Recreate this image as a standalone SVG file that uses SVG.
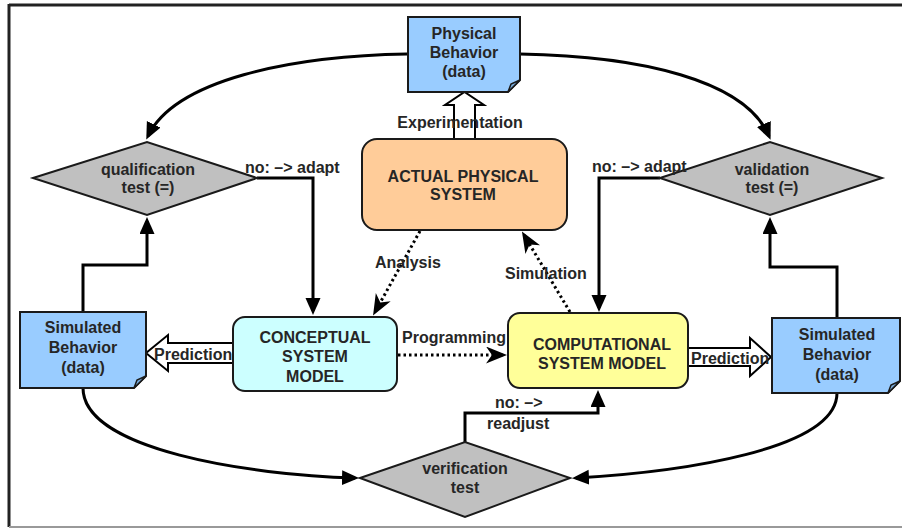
<svg xmlns="http://www.w3.org/2000/svg" width="902" height="529" viewBox="0 0 902 529">
<defs>
<style>
text{font-family:"Liberation Sans",Arial,sans-serif;font-size:16px;font-weight:bold;fill:#262626}
.c{text-anchor:middle}
.box{stroke:#1a1a1a;stroke-width:2}
.doc{fill:#99ccff;stroke:#1a1a1a;stroke-width:2}
.flap{fill:#7aaee0;stroke:#1a1a1a;stroke-width:1.5}
.dia{fill:#c0c0c0;stroke:#1a1a1a;stroke-width:2}
.ln{fill:none;stroke:#000;stroke-width:3}
.dot{fill:none;stroke:#000;stroke-width:3;stroke-dasharray:2.5 3}
.hol{fill:#fff;stroke:#000;stroke-width:2;stroke-linejoin:miter}
</style>
<marker id="tri" markerUnits="userSpaceOnUse" markerWidth="18" markerHeight="16" refX="13" refY="7.5" orient="auto">
<path d="M0,0 L17,7.5 L0,15 z" fill="#000"/>
</marker>
<marker id="stl" markerUnits="userSpaceOnUse" markerWidth="22" markerHeight="18" refX="17" refY="8.5" orient="auto">
<path d="M0,0 L21,8.5 L0,17 L6,8.5 z" fill="#000"/>
</marker>
</defs>
<rect width="902" height="529" fill="#fff"/>
<g id="frame">
<line x1="9" y1="5" x2="902" y2="5" stroke="#222" stroke-width="3"/>
<line x1="9" y1="4" x2="9" y2="527" stroke="#222" stroke-width="3"/>
<line x1="9" y1="527" x2="902" y2="527" stroke="#999" stroke-width="2"/>
</g>
<g id="connectors">
<path class="ln" d="M407,54 C290,56 175,80 148,136" marker-end="url(#tri)"/>
<path class="ln" d="M520,54 C640,56 745,80 769,136" marker-end="url(#tri)"/>
<path class="ln" d="M83,312 V265 H147 V221" marker-end="url(#tri)"/>
<path class="ln" d="M837,318 V267 H770 V221" marker-end="url(#tri)"/>
<path class="ln" d="M257,178 H313 V311" marker-end="url(#tri)"/>
<path class="ln" d="M660,178 H599 V308" marker-end="url(#tri)"/>
<path class="ln" d="M465,442 V413 H598 V394" marker-end="url(#tri)"/>
<path class="ln" d="M83,388 C83,450 250,475 355,478" marker-end="url(#tri)"/>
<path class="ln" d="M837,393 C837,450 680,472 576,478" marker-end="url(#tri)"/>
<path class="dot" d="M420,231 L375,312" marker-end="url(#stl)"/>
<path class="dot" d="M570,312 L524,235" marker-end="url(#stl)"/>
<path class="dot" d="M398,355 L503,355" marker-end="url(#stl)"/>
<polygon class="hol" points="454,139 454,105 445,105 464.5,92 484,105 475,105 475,139"/>
<polygon class="hol" points="233,343 168,343 168,335 146,353 168,371 168,363 233,363"/>
<polygon class="hol" points="688,348 750,348 750,338 771,357 750,376 750,366 688,366"/>
</g>
<g id="physical">
<path class="doc" d="M408,17 H520 V80 L508,92 H408 Z"/>
<path class="flap" d="M508,92 L511,84 L520,80 Z"/>
<text class="c" x="464" y="39">Physical</text>
<text class="c" x="464" y="58">Behavior</text>
<text class="c" x="464" y="77">(data)</text>
</g>
<g id="actual">
<rect class="box" x="362" y="139" width="205" height="91" rx="15" fill="#ffcc99"/>
<text class="c" x="463" y="182">ACTUAL PHYSICAL</text>
<text class="c" x="463" y="200">SYSTEM</text>
</g>
<g id="qualification">
<polygon class="dia" points="33,178 147,142 257,178 147,215"/>
<text class="c" x="148" y="175">qualification</text>
<text class="c" x="148" y="193">test (=)</text>
</g>
<g id="validation">
<polygon class="dia" points="660,178 770,142 882,178 770,215"/>
<text class="c" x="772" y="175">validation</text>
<text class="c" x="772" y="193">test (=)</text>
</g>
<g id="simulated-left">
<path class="doc" d="M20,312 H146 V376 L134,388 H20 Z"/>
<path class="flap" d="M134,388 L137,380 L146,376 Z"/>
<text class="c" x="83" y="333">Simulated</text>
<text class="c" x="83" y="353">Behavior</text>
<text class="c" x="83" y="373">(data)</text>
</g>
<g id="conceptual">
<rect class="box" x="233" y="317" width="164" height="74" rx="12" fill="#ccffff"/>
<text class="c" x="315" y="343">CONCEPTUAL</text>
<text class="c" x="315" y="362">SYSTEM</text>
<text class="c" x="315" y="382">MODEL</text>
</g>
<g id="computational">
<rect class="box" x="508" y="313" width="180" height="75" rx="12" fill="#ffff99"/>
<text class="c" x="602" y="350" textLength="138" lengthAdjust="spacingAndGlyphs">COMPUTATIONAL</text>
<text class="c" x="602" y="369">SYSTEM MODEL</text>
</g>
<g id="simulated-right">
<path class="doc" d="M772,318 H900 V381 L888,393 H772 Z"/>
<path class="flap" d="M888,393 L891,385 L900,381 Z"/>
<text class="c" x="837" y="340">Simulated</text>
<text class="c" x="837" y="360">Behavior</text>
<text class="c" x="837" y="380">(data)</text>
</g>
<g id="verification">
<polygon class="dia" points="360,478 465,442 570,478 465,517"/>
<text class="c" x="465" y="474">verification</text>
<text class="c" x="465" y="493">test</text>
</g>
<g id="labels">
<text class="c" x="460" y="128">Experimentation</text>
<text x="245" y="173">no: –&gt; adapt</text>
<text x="592" y="172">no: –&gt; adapt</text>
<text x="375" y="268">Analysis</text>
<text x="505" y="279">Simulation</text>
<text x="402" y="343">Programming</text>
<text x="154" y="360">Prediction</text>
<text x="691" y="364">Prediction</text>
<text x="495" y="408">no: –&gt;</text>
<text x="487" y="429">readjust</text>
</g>
</svg>
